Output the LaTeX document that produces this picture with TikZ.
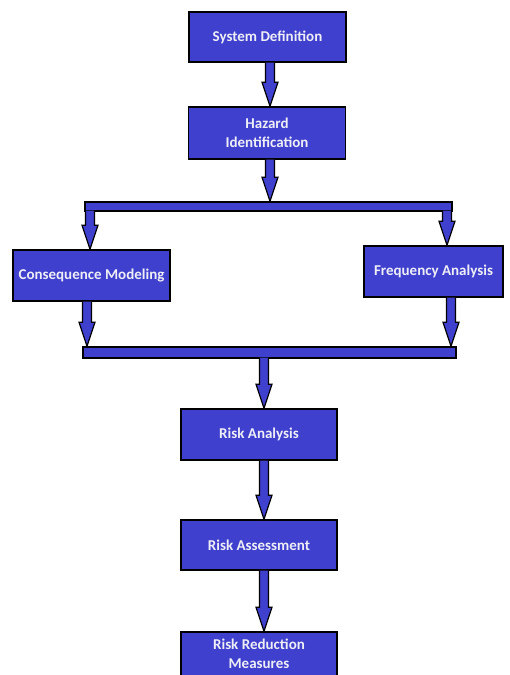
\documentclass[tikz,border=0pt]{standalone}
\usepackage{fontspec}
\setmainfont{Carlito}
\usetikzlibrary{calc}
\definecolor{boxblue}{RGB}{64,64,206}
\definecolor{txt}{RGB}{238,238,246}
\tikzset{
  box/.style={draw=black, line width=1.4pt, fill=boxblue, text=txt, font=\bfseries\fontsize{15}{19.5}\selectfont, align=center, inner sep=0pt, anchor=center},
  bar/.style={draw=black, line width=1.4pt, fill=boxblue, inner sep=0pt, anchor=center},
}
% block arrow: start (#1), end y taken from (#2)
\newcommand\barrow[2]{%
  \path let \p1=(#1), \p2=(#2) in
    [fill=boxblue] (\x1-4.5pt,\y1) -- (\x1+4.5pt,\y1) -- (\x1+4.5pt,\y2+24pt) -- (\x1+8pt,\y2+24pt) -- (\x1,\y2) -- (\x1-8pt,\y2+24pt) -- (\x1-4.5pt,\y2+24pt) -- cycle;
  \path let \p1=(#1), \p2=(#2) in
    [draw=black, line width=1.2pt, line join=miter] (\x1+4.5pt,\y1) -- (\x1+4.5pt,\y2+24pt) -- (\x1+8pt,\y2+24pt) -- (\x1,\y2) -- (\x1-8pt,\y2+24pt) -- (\x1-4.5pt,\y2+24pt) -- (\x1-4.5pt,\y1);
}
\begin{document}
\begin{tikzpicture}[x=1pt,y=-1pt]
\clip (0,0) rectangle (509,675);
\useasboundingbox (0,0) rectangle (509,675);
\fill[white] (0,0) rectangle (509,675);

\node[box, minimum width=157pt, minimum height=50pt] (sysdef) at (267.5,37) {System Definition};
\node[box, minimum width=157pt, minimum height=52pt] (hazard) at (267,133) {Hazard\\Identification};
\node[bar, minimum width=367pt, minimum height=9pt] (topbar) at (268.5,206.5) {};
\node[box, minimum width=157pt, minimum height=51pt] (cm) at (91.5,275.5) {Consequence Modeling};
\node[box, minimum width=139pt, minimum height=51pt] (fa) at (433.5,271.5) {Frequency Analysis};
\node[bar, minimum width=373pt, minimum height=11pt] (botbar) at (269.5,352.5) {};
\node[box, minimum width=156pt, minimum height=51pt] (ra) at (259,434.5) {Risk Analysis};
\node[box, minimum width=156pt, minimum height=50pt] (rass) at (259,545) {Risk Assessment};
\node[box, minimum width=156pt, minimum height=44pt] (rrm) at (259,654) {Risk Reduction\\Measures};

\coordinate (a1) at ([xshift=2.5pt]sysdef.south);
\coordinate (a2) at ([xshift=3pt]hazard.south);
\coordinate (a3) at ([xshift=-1.5pt,yshift=1pt]topbar.south -| cm.north);
\coordinate (a4) at ([xshift=13.5pt,yshift=1pt]topbar.south -| fa.north);
\coordinate (a5) at ([xshift=-4.5pt]cm.south);
\coordinate (a6) at ([xshift=17.5pt]fa.south);
\coordinate (a7) at ([xshift=5pt,yshift=1pt]botbar.south -| ra.north);
\coordinate (a8) at ([xshift=5pt]ra.south);
\coordinate (a9) at ([xshift=5pt]rass.south);

\barrow{a1}{hazard.north}
\barrow{a2}{topbar.north}
\barrow{a3}{cm.north}
\barrow{a4}{fa.north}
\barrow{a5}{botbar.north}
\barrow{a6}{botbar.north}
\barrow{a7}{ra.north}
\barrow{a8}{rass.north}
\barrow{a9}{rrm.north}
\end{tikzpicture}
\end{document}
